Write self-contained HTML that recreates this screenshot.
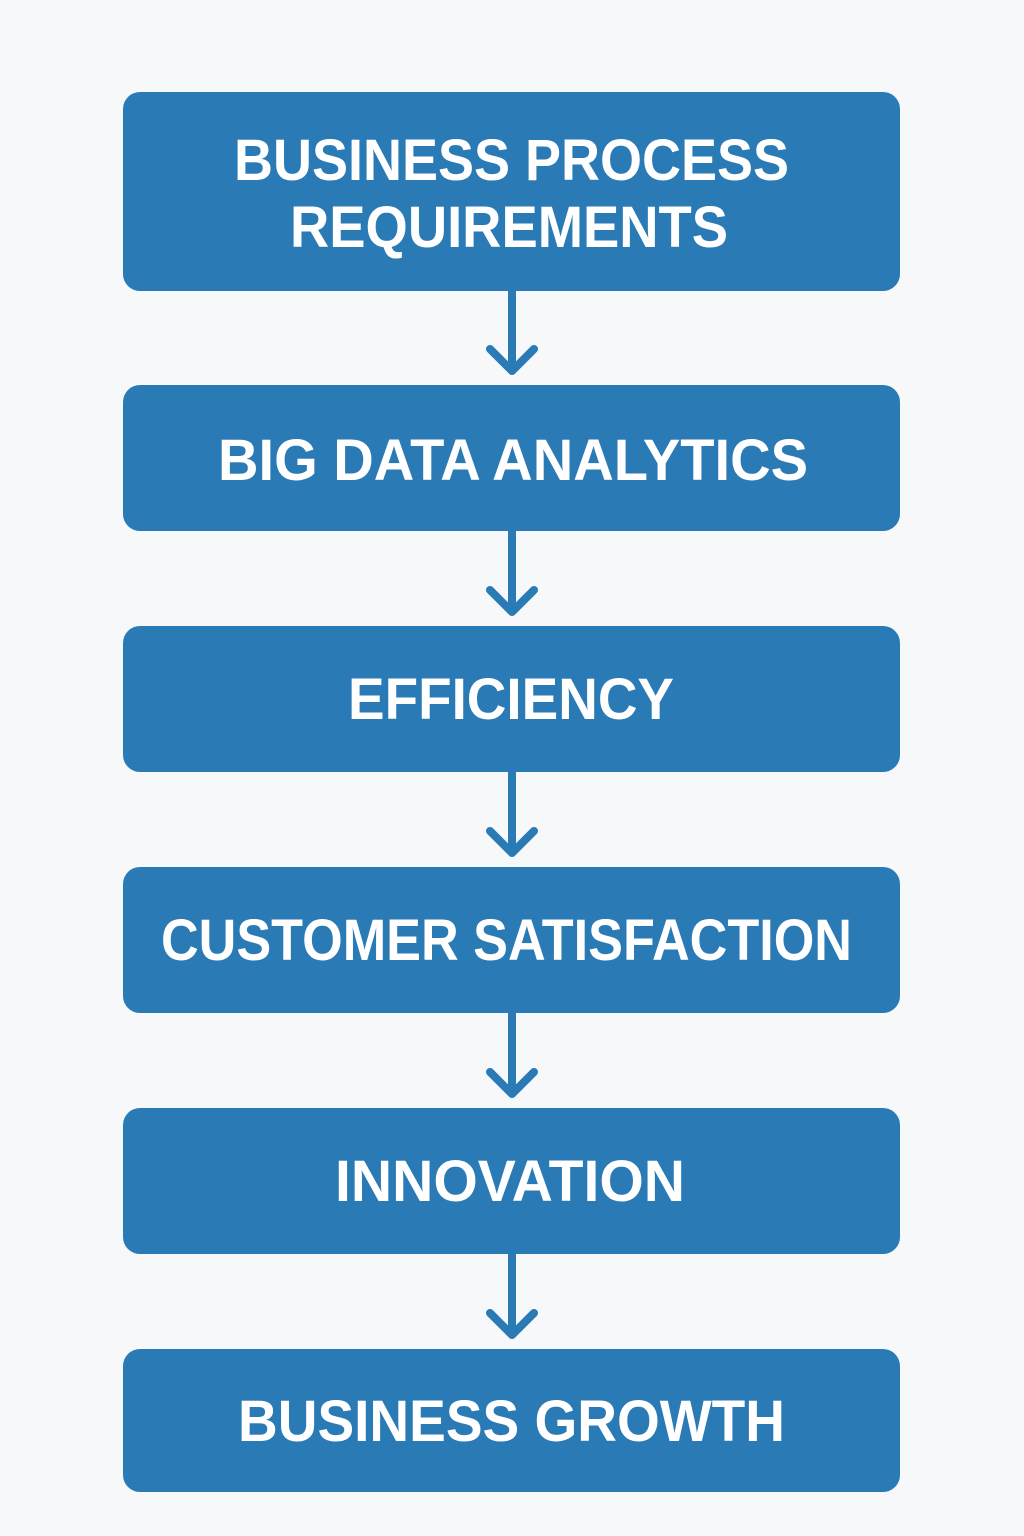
<!DOCTYPE html>
<html><head><style>html,body{margin:0;padding:0;background:#f7f8fa;}svg{display:block}</style></head>
<body>
<svg width="1024" height="1536" viewBox="0 0 1024 1536" xmlns="http://www.w3.org/2000/svg">
<rect width="1024" height="1536" fill="#f7f8fa"/>
<g fill="#2a7ab5">
<rect x="123" y="92" width="777" height="199" rx="17"/>
<rect x="123" y="385" width="777" height="146" rx="17"/>
<rect x="123" y="626" width="777" height="146" rx="17"/>
<rect x="123" y="867" width="777" height="146" rx="17"/>
<rect x="123" y="1108" width="777" height="146" rx="17"/>
<rect x="123" y="1349" width="777" height="143" rx="17"/>
</g>
<g stroke="#2a7ab5" stroke-width="8" fill="none" stroke-linecap="round" stroke-linejoin="round">
<path d="M512 291V370M490 349L512 371L534 349"/>
<path d="M512 531V611M490 590L512 612L534 590"/>
<path d="M512 772V852M490 831L512 853L534 831"/>
<path d="M512 1013V1093M490 1072L512 1094L534 1072"/>
<path d="M512 1254V1334M490 1313L512 1335L534 1313"/>
</g>
<g fill="#fff" font-family="Liberation Sans, sans-serif" font-weight="bold" font-size="58" lengthAdjust="spacingAndGlyphs">
<text x="234" y="180" textLength="555" lengthAdjust="spacingAndGlyphs">BUSINESS PROCESS</text>
<text x="290" y="247" textLength="438" lengthAdjust="spacingAndGlyphs">REQUIREMENTS</text>
<text x="218" y="480" textLength="590" lengthAdjust="spacingAndGlyphs">BIG DATA ANALYTICS</text>
<text x="348" y="719" textLength="326" lengthAdjust="spacingAndGlyphs">EFFICIENCY</text>
<text x="161" y="960" textLength="691" lengthAdjust="spacingAndGlyphs">CUSTOMER SATISFACTION</text>
<text x="335" y="1201" textLength="350" lengthAdjust="spacingAndGlyphs">INNOVATION</text>
<text x="238" y="1441" textLength="547" lengthAdjust="spacingAndGlyphs">BUSINESS GROWTH</text>
</g>
</svg>
</body></html>
